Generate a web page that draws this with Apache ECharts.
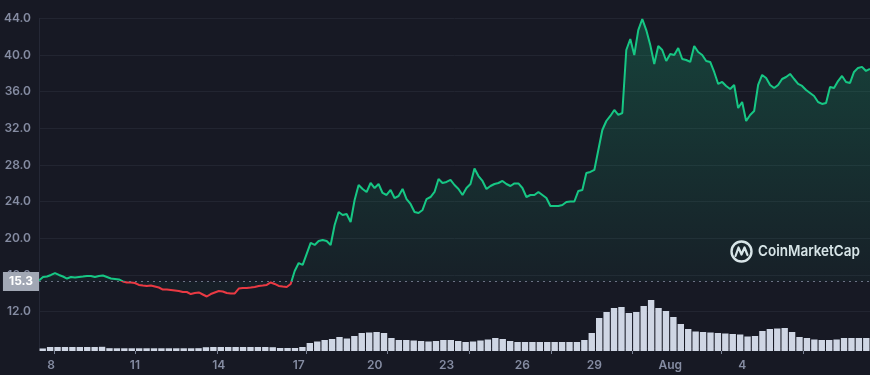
<!DOCTYPE html>
<html>
<head>
<meta charset="utf-8">
<script src="https://cdn.jsdelivr.net/npm/echarts@6/dist/echarts.min.js"></script>
<style>
html,body{margin:0;padding:0;background:#171924;}
#chart{width:870px;height:375px;}
</style>
</head>
<body>
<div id="chart"></div>
<script>
// Price samples (evenly spaced along the chart, Jul 7 -> Aug 5)
const price = [15.41,15.79,15.84,16.01,16.22,16.01,15.84,15.62,15.79,15.73,
15.79,15.84,15.90,15.90,15.79,15.90,15.95,15.79,15.62,15.57,
15.52,15.30,15.19,15.19,15.13,14.92,14.86,14.81,14.86,14.75,
14.64,14.42,14.42,14.37,14.32,14.26,14.15,14.15,13.93,14.04,
14.10,13.88,13.66,13.93,14.10,14.26,14.21,14.04,13.99,13.99,
14.53,14.59,14.59,14.64,14.70,14.81,14.86,14.92,15.19,15.03,
14.81,14.75,14.70,15.03,16.44,17.31,17.10,18.30,19.50,19.28,
19.72,19.83,19.72,19.28,21.46,22.88,22.55,22.66,21.79,24.18,
25.82,25.39,25.06,26.04,25.49,25.93,24.95,24.73,25.28,24.40,
24.62,25.39,24.29,23.75,22.88,22.77,23.10,24.29,24.51,25.06,
26.48,26.04,26.15,26.37,25.82,25.39,24.73,25.50,25.93,27.62,
26.80,26.26,25.39,25.71,25.93,26.04,26.26,25.93,25.71,25.99,
25.99,25.49,24.51,24.73,24.73,25.06,24.73,24.40,23.53,23.53,
23.53,23.64,23.97,24.02,24.02,25.17,25.28,27.13,27.24,27.46,
29.64,31.82,32.80,33.35,34.00,33.46,33.67,40.54,41.74,40.00,
42.72,43.92,42.72,41.09,39.02,40.98,40.54,39.34,40.11,40.00,
40.76,39.56,39.45,39.24,40.98,40.32,40.00,39.34,39.24,38.15,
36.84,37.06,36.62,36.29,36.73,34.22,34.87,32.80,33.46,33.89,
36.73,37.82,37.49,36.73,36.40,36.73,37.38,37.60,37.93,37.38,
36.84,36.62,36.18,35.86,35.53,34.87,34.66,34.77,36.51,36.40,
37.16,37.71,37.06,36.95,38.15,38.59,38.70,38.26,38.48];

// Volume bars (relative units)
const volume = [2.5,4,4,4,4,4,4,4,4.2,
2.8,2.7,2.7,2.7,2.7,2.7,2.7,2.7,2.7,2.7,2.7,2.7,2.8,
3.8,4,4,4,4,4,4,4,4,3.8,
3,3,3,
4,8,9.5,11,12,14,12.5,15,18,18.5,19,18,13,11,11,10.5,10,9.5,10,11,11,10,9,9.5,10.5,11.5,13,12,10,9,9,9,9,9,9,9,9,9,11,18,33,39,43,44,38,39,45,51,43,40,34,27,22,19.5,19,18.5,18,17.5,17,16.5,14.5,15,20,22,22.5,23,19,14,13,11.5,11,11,11.5,13,13,13,13];

// Date tick labels and the sample index they sit on
const tickLabels = ['8','11','14','17','20','23','26','29','Aug','4'];
const tickIndex  = [3,24,45,65,84,102,121,139,158,176];
// Volume axis tick marks (bar index)
const volTickIndex = [2,13,24,36,47,58,69,80,92,103];

const baseline = 15.3;
const yMin = 8, yMax = 44, yStep = 4;

const categories = price.map((_, i) => String(i));
const volCats = volume.map((_, i) => String(i));

const chart = echarts.init(document.getElementById('chart'), null, {renderer: 'canvas'});
chart.setOption({
  backgroundColor: '#171924',
  animation: false,
  grid: [
    {left: 39, right: 0, top: 18.3, bottom: 26.6},
    {left: 39, right: 0, top: 296, bottom: 24}
  ],
  xAxis: [
    {
      type: 'category', gridIndex: 0, data: categories, boundaryGap: false,
      axisLine: {show: false}, axisTick: {show: false},
      splitLine: {show: false},
      axisLabel: {
        interval: (idx) => tickIndex.indexOf(idx) >= 0,
        formatter: (v) => { const k = tickIndex.indexOf(Number(v)); return k >= 0 ? tickLabels[k] : ''; },
        color: '#858ca2', fontSize: 12, fontWeight: 600, fontFamily: 'Inter', margin: 11
      }
    },
    {
      type: 'category', gridIndex: 1, data: volCats, boundaryGap: true,
      axisLine: {show: false},
      axisTick: {show: true, length: 3, interval: (idx) => volTickIndex.indexOf(idx) >= 0,
        lineStyle: {color: '#7d8497', width: 1}},
      axisLabel: {show: false}, splitLine: {show: false}
    }
  ],
  yAxis: [
    {
      type: 'value', gridIndex: 0, min: yMin, max: yMax, interval: yStep,
      axisLine: {show: true, lineStyle: {color: '#252836'}},
      axisTick: {show: false},
      splitLine: {show: true, lineStyle: {color: '#222531', width: 1}},
      axisLabel: {
        formatter: (v) => (v >= 12 ? v.toFixed(1) : ''),
        color: '#858ca2', fontSize: 12, fontWeight: 600, fontFamily: 'Inter', margin: 8
      }
    },
    {
      type: 'value', gridIndex: 1, min: 0, max: 55, show: false
    }
  ],
  visualMap: {
    type: 'piecewise', show: false, seriesIndex: 0, dimension: 1,
    pieces: [
      {gt: baseline, lte: 1000, color: '#16c784'},
      {gte: 0, lte: baseline, color: '#ea3943'}
    ]
  },
  series: [
    {
      type: 'line', xAxisIndex: 0, yAxisIndex: 0, data: price,
      showSymbol: false, symbol: 'none', clip: false,
      lineStyle: {width: 2},
      areaStyle: {
        origin: baseline,
        color: new echarts.graphic.LinearGradient(0, 0, 0, 1, [
          {offset: 0, color: 'rgba(22,199,132,0.34)'},
          {offset: 1, color: 'rgba(22,199,132,0.04)'}
        ])
      },
      markLine: {
        silent: true, symbol: ['none', 'none'],
        lineStyle: {type: [2, 4], color: '#6b7285', width: 1},
        label: {
          show: true, position: 'start', formatter: '15.3', distance: 0,
          backgroundColor: '#a1a7b4', color: '#ffffff', fontWeight: 'bold', fontSize: 12,
          fontFamily: 'Inter', padding: [4, 6, 3, 6]
        },
        data: [{yAxis: baseline}]
      }
    },
    {
      type: 'bar', xAxisIndex: 1, yAxisIndex: 1, data: volume,
      barCategoryGap: '14%',
      itemStyle: {color: '#cfd6e4'}
    }
  ],
  graphic: [
    {
      type: 'group', left: 729, top: 239,
      children: [
        {type: 'circle', shape: {cx: 11.5, cy: 11.5, r: 10}, style: {fill: 'none', stroke: '#e4e7ee', lineWidth: 2.4}},
        {type: 'polyline', shape: {points: [[5.5, 16], [8.5, 7.5], [11.5, 14.5], [14.5, 7.5], [17.5, 15]]},
          style: {fill: 'none', stroke: '#e4e7ee', lineWidth: 2.2, lineJoin: 'round', lineCap: 'round'}}
      ]
    },
    {
      type: 'text', x: 758, y: 251, scaleX: 0.9,
      style: {text: 'CoinMarketCap', fill: '#e4e7ee', font: '600 15px Inter', verticalAlign: 'middle'}
    }
  ]
});
</script>
</body>
</html>
